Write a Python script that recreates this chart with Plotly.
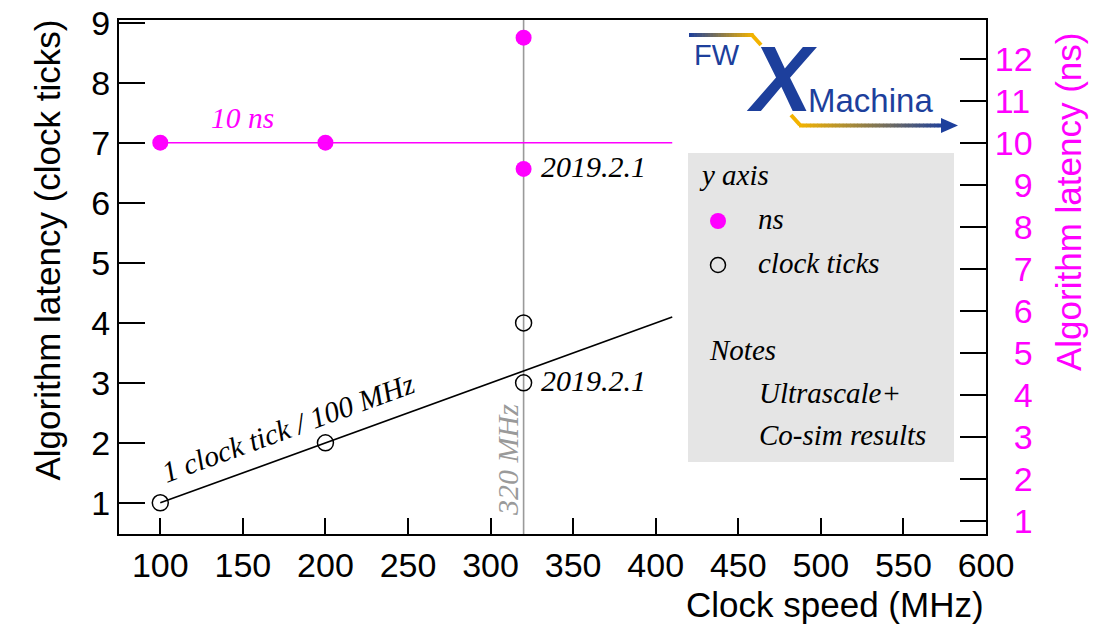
import plotly.graph_objects as go

# ---------------- data ----------------
clock_speed_ticks = [100, 200, 320, 320]      # MHz
latency_ticks = [1, 2, 3, 4]                   # clock ticks
clock_speed_ns = [100, 200, 320, 320]          # MHz
latency_ns = [10, 10, 9.375, 12.5]             # ns
trend_speed = [100, 410]                       # 1 clock tick / 100 MHz
trend_ticks = [1, 4.1]
ref_speed = [100, 410]                         # 10 ns reference
ref_ns = [10, 10]
marker_speed = 320                             # 320 MHz vertical marker
x_tickvals = [100, 150, 200, 250, 300, 350, 400, 450, 500, 550, 600]
y_tickvals = [1, 2, 3, 4, 5, 6, 7, 8, 9]
y2_tickvals = [1, 2, 3, 4, 5, 6, 7, 8, 9, 10, 11, 12]

# ---------------- geometry (page pixels) ----------------
OFF = 0                       # page body margin removed by post_script
W, H = 1104 - 2 * OFF, 625 - 2 * OFF
PL, PR, PT, PB = 119, 986, 20, 534
PW, PH = PR - PL, PB - PT


def px(x):
    return (x - PL) / PW


def py(y):
    return (PB - y) / PH


MAG = "#ff00ff"
BLUE = "#1d3f9c"
GOLD = "#f3b300"
SANS = "Liberation Sans, Arial, sans-serif"
SERIF = "Liberation Serif, Times New Roman, serif"

fig = go.Figure()

# 10 ns reference line (right axis)
fig.add_trace(go.Scatter(x=ref_speed, y=ref_ns, yaxis="y2", mode="lines",
                         line=dict(color=MAG, width=1.6), hoverinfo="skip"))
# trend line
fig.add_trace(go.Scatter(x=trend_speed, y=trend_ticks, mode="lines",
                         line=dict(color="black", width=1.6), hoverinfo="skip"))
# clock tick points
fig.add_trace(go.Scatter(x=clock_speed_ticks, y=latency_ticks, mode="markers",
                         marker=dict(symbol="circle-open", size=16, color="black",
                                     line=dict(width=1.5, color="black"))))
# ns points
fig.add_trace(go.Scatter(x=clock_speed_ns, y=latency_ns, yaxis="y2", mode="markers",
                         marker=dict(symbol="circle", size=16, color=MAG)))

shapes = []
# vertical 320 MHz line
shapes.append(dict(type="line", xref="x", yref="paper", x0=marker_speed, x1=marker_speed,
                   y0=0, y1=1, line=dict(color="#9a9a9a", width=1.6), layer="below"))
# legend box
shapes.append(dict(type="rect", xref="paper", yref="paper", x0=px(688), x1=px(954),
                   y0=py(462), y1=py(153), fillcolor="#e5e5e5", line=dict(width=0),
                   layer="below"))
# legend markers
r = 8
shapes.append(dict(type="circle", xref="paper", yref="paper", x0=px(718 - r), x1=px(718 + r),
                   y0=py(221 + r), y1=py(221 - r), fillcolor=MAG, line=dict(width=0)))
r = 7.5
shapes.append(dict(type="circle", xref="paper", yref="paper", x0=px(718 - r), x1=px(718 + r),
                   y0=py(265 + r), y1=py(265 - r), fillcolor="rgba(0,0,0,0)",
                   line=dict(color="black", width=1.5)))


# logo gradient bars
def hexrgb(h):
    h = h.lstrip("#")
    return tuple(int(h[i:i + 2], 16) for i in (0, 2, 4))


def mix(c1, c2, t):
    a, b = hexrgb(c1), hexrgb(c2)
    return "rgb(%d,%d,%d)" % tuple(round(a[i] + (b[i] - a[i]) * t) for i in range(3))


def grad_bar(x0, x1, y, c0, c1, n=24, w=4):
    for i in range(n):
        xa = x0 + (x1 - x0) * i / n
        xb = x0 + (x1 - x0) * (i + 1) / n + 0.6
        shapes.append(dict(type="line", xref="paper", yref="paper", x0=px(xa), x1=px(xb),
                           y0=py(y), y1=py(y), line=dict(color=mix(c0, c1, (i + 0.5) / n), width=w)))


grad_bar(689, 753, 35, BLUE, GOLD)
shapes.append(dict(type="line", xref="paper", yref="paper", x0=px(752), x1=px(761),
                   y0=py(35), y1=py(45), line=dict(color=GOLD, width=4)))
shapes.append(dict(type="line", xref="paper", yref="paper", x0=px(791), x1=px(800),
                   y0=py(115), y1=py(125), line=dict(color=GOLD, width=4)))
grad_bar(799, 945, 125.5, GOLD, BLUE, n=40)
shapes.append(dict(type="path", xref="paper", yref="paper",
                   path="M %f %f L %f %f L %f %f Z" % (px(941), py(118), px(958), py(125.5),
                                                        px(941), py(133)),
                   fillcolor=BLUE, line=dict(width=0)))

ann = []


def txt(text, x, y, size=29, color="black", family=SERIF, xanchor="left", yanchor="middle",
        angle=0):
    ann.append(dict(text=text, x=px(x), y=py(y), xref="paper", yref="paper", showarrow=False,
                    xanchor=xanchor, yanchor=yanchor, textangle=angle,
                    font=dict(size=size, color=color, family=family)))


# logo texts
txt("FW", 717, 55, size=29, color=BLUE, family=SANS, xanchor="center")
txt("<b><i>X</i></b>", 781, 79, size=92, color=BLUE, family=SANS, xanchor="center")
txt("Machina", 806, 100, size=33, color=BLUE, family=SANS)

# legend texts
txt("<i>y axis</i>", 697, 175)
txt("<i>ns</i>", 756, 219)
txt("<i>clock ticks</i>", 756, 263)
txt("<i>Notes</i>", 707, 350)
txt("<i>Ultrascale+</i>", 757, 393)
txt("<i>Co-sim results</i>", 757, 435)

# plot annotations
txt("<i>10 ns</i>", 242, 118, size=29.5, color=MAG, xanchor="center")
txt("<i>2019.2.1</i>", 539, 166, size=30)
txt("<i>2019.2.1</i>", 539, 380, size=30)
txt("<i>1 clock tick / 100 MHz</i>", 288, 428, size=29.5, xanchor="center", angle=-20)
txt("<i>320 MHz</i>", 507, 460, size=30, color="#9a9a9a", xanchor="center", angle=-90)

# axis titles
txt("Clock speed (MHz)", 986, 604, size=35, family=SANS, xanchor="right")
txt("Algorithm latency (clock ticks)", 47, 18, size=35, family=SANS, xanchor="center",
    yanchor="top", angle=-90)
txt("Algorithm latency (ns)", 1068, 31, size=35, color=MAG, family=SANS, xanchor="center",
    yanchor="top", angle=-90)

axis_common = dict(showgrid=False, zeroline=False, automargin=False, ticklabeloverflow="allow",
                   ticks="inside", tickwidth=2, tickcolor="black", showline=True, linewidth=2,
                   linecolor="black")

fig.update_layout(
    template="none",
    width=W, height=H, autosize=False,
    margin=dict(l=PL - OFF, r=W - (PR - OFF), t=PT - OFF, b=H - (PB - OFF), pad=0),
    plot_bgcolor="white", paper_bgcolor="white",
    showlegend=False,
    shapes=shapes, annotations=ann,
    font=dict(family=SANS, color="black"),
    xaxis=dict(range=[75, 600], tickvals=x_tickvals, ticklen=16, mirror=True,
               tickfont=dict(size=34, family=SANS), **axis_common),
    yaxis=dict(range=[0.48, 9.05], tickvals=y_tickvals, ticklen=26,
               tickfont=dict(size=34, family=SANS), **axis_common),
    yaxis2=dict(range=[0.688, 12.92], overlaying="y", side="right", tickvals=y2_tickvals,
                ticktext=[("\u2007" + str(v)) if v < 10 else str(v) for v in y2_tickvals],
                ticklen=26, tickfont=dict(size=34, family=SANS, color=MAG), **axis_common),
)

fig.write_html("out.html",
               config={"displayModeBar": False},
               post_script="document.body.style.margin='0px';"
                           "document.body.style.overflow='hidden';")
